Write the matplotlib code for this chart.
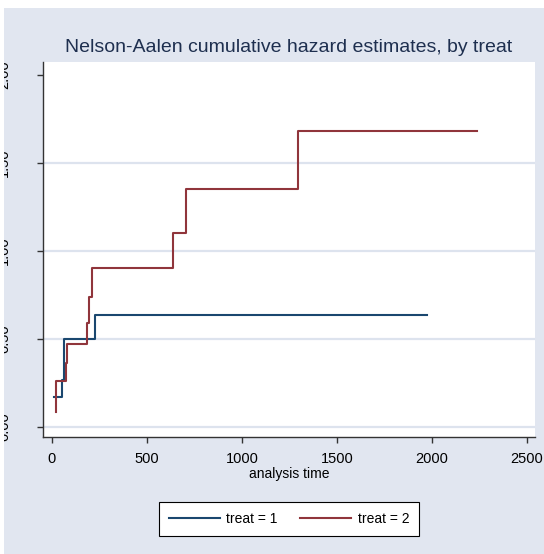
import matplotlib
matplotlib.use('Agg')
import matplotlib.pyplot as plt
from matplotlib.patches import Rectangle

plt.rcParams['font.family'] = ['Liberation Sans', 'DejaVu Sans']

# Nelson-Aalen step data
t_treat1 = [12, 54, 64, 225, 1972]
h_treat1 = [0.170, 0.265, 0.497, 0.636, 0.636]

t_treat2 = [19, 21, 72, 78, 184, 196, 212, 636, 703, 1296, 2238]
h_treat2 = [0.082, 0.261, 0.36, 0.47, 0.59, 0.735, 0.90, 1.10, 1.35, 1.68, 1.68]

xticks = [0, 500, 1000, 1500, 2000, 2500]
yticks = [0.0, 0.5, 1.0, 1.5, 2.0]
ytick_labels = ['0.00', '0.50', '1.00', '1.50', '2.00']
grid_vals = [0.0, 0.5, 1.0, 1.5]

W, H = 544, 554
bg = '#e1e6f0'
navy = '#1a476f'
maroon = '#90353b'

fig = plt.figure(figsize=(W / 100, H / 100), dpi=100, facecolor='white')
fig.patches.append(Rectangle((0, 0), 1, 1, transform=fig.transFigure,
                             facecolor=bg, edgecolor='none', zorder=-10))

ax = fig.add_axes([43 / W, (H - 437) / H, (535 - 43) / W, (437 - 62.3) / H])
ax.set_facecolor('white')

for g in grid_vals:
    ax.axhline(g, color='#dde3ee', linewidth=1.6, zorder=1)

ax.plot(t_treat1, h_treat1, drawstyle='steps-post', color=navy, linewidth=1.5,
        label='treat = 1', zorder=3)
ax.plot(t_treat2, h_treat2, drawstyle='steps-post', color=maroon, linewidth=1.5,
        label='treat = 2', zorder=3)

ax.set_xlim(-47, 2542)
ax.set_ylim(-0.058, 2.07)

for s in ['top', 'right']:
    ax.spines[s].set_visible(False)
for s in ['left', 'bottom']:
    ax.spines[s].set_color('#333333')
    ax.spines[s].set_linewidth(1.0)

ax.set_xticks(xticks)
ax.set_xticklabels([str(v) for v in xticks], fontsize=10.5)
ax.set_yticks(yticks)
ax.set_yticklabels(ytick_labels, rotation=90, va='center', fontsize=10.5)
ax.tick_params(axis='x', direction='out', length=4.3, width=1, color='#333333', pad=6.5)
ax.tick_params(axis='y', direction='out', length=4.3, width=1, color='#333333', pad=18.7)

ax.set_xlabel('analysis time', fontsize=10, labelpad=1)

fig.text(289 / W, 1 - 47 / H, 'Nelson-Aalen cumulative hazard estimates, by treat',
         ha='center', va='center', fontsize=14, color='#1e2f4f')

leg = fig.legend(loc='center', bbox_to_anchor=(289 / W, 1 - 519 / H), ncol=2,
                 fontsize=10, frameon=True, fancybox=False, handlelength=3.7,
                 columnspacing=1.6, borderpad=0.7, handletextpad=0.45)
leg.get_frame().set_edgecolor('black')
leg.get_frame().set_linewidth(0.8)
leg.get_frame().set_facecolor('white')
leg.get_frame().set_alpha(1)

# white strips on the left and top edges of the original crop
fig.add_artist(Rectangle((0, 0), 4 / W, 1, transform=fig.transFigure,
                         facecolor='white', edgecolor='none', zorder=20))
fig.add_artist(Rectangle((0, 1 - 8 / H), 1, 8 / H, transform=fig.transFigure,
                         facecolor='white', edgecolor='none', zorder=20))

fig.savefig('out.png', dpi=100)
